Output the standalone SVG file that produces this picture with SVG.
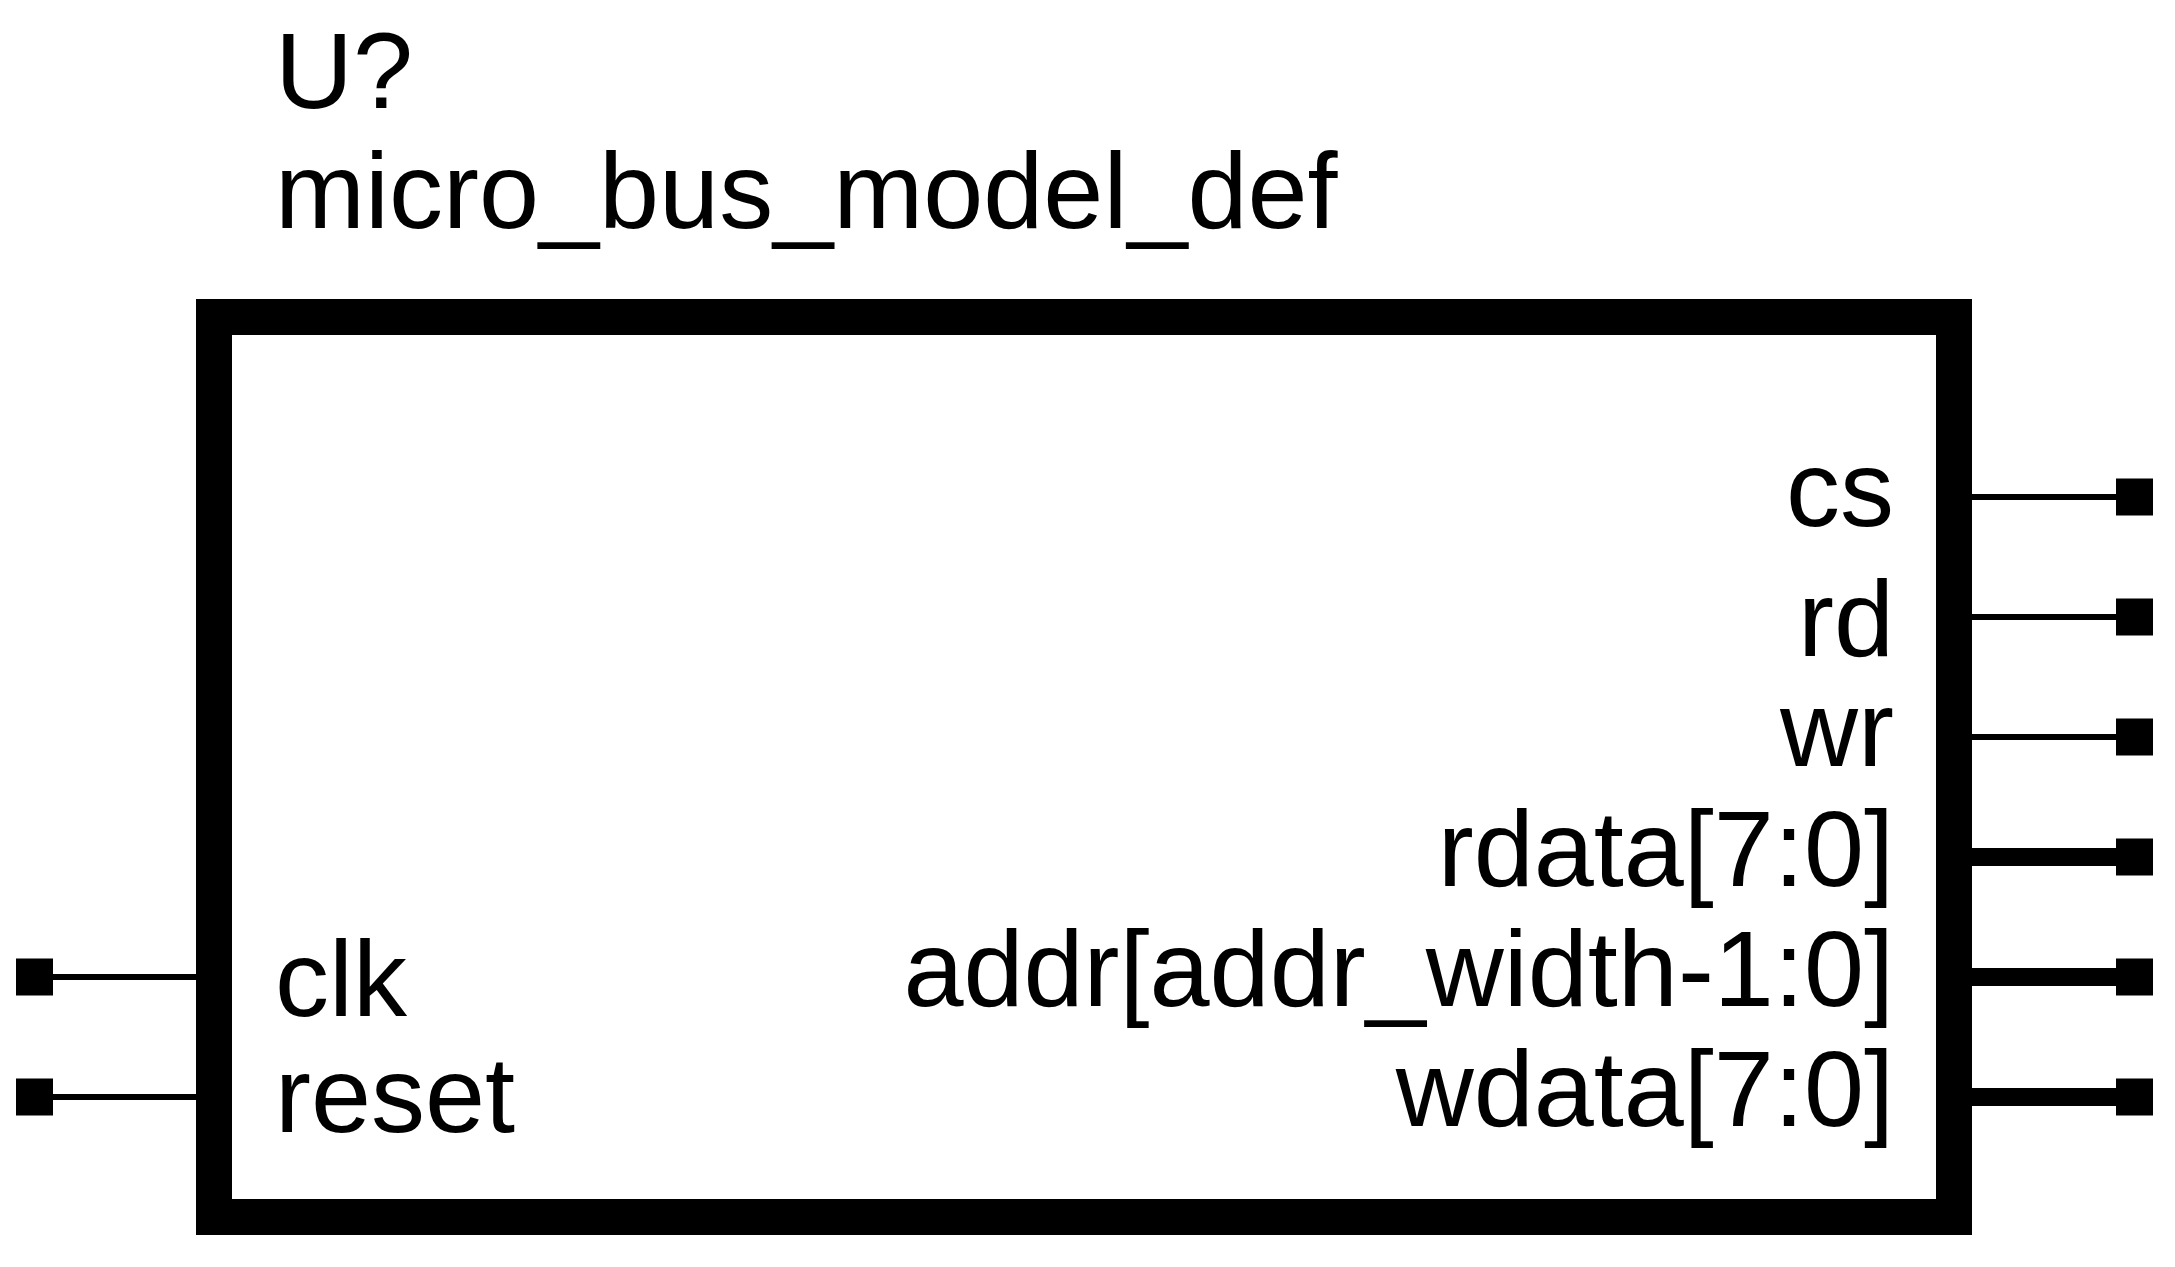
<svg xmlns="http://www.w3.org/2000/svg" width="2175" height="1267" viewBox="0 0 2175 1267">
<style>
text{font-family:"Liberation Sans",Arial,sans-serif;font-size:108px;fill:#000}
.r{text-anchor:end}
.thin{stroke:#000;stroke-width:6}
.bus{stroke:#000;stroke-width:18}
.term{fill:#000}
</style>
<rect width="2175" height="1267" fill="#fff"/>
<g id="labels">
<text x="275" y="108">U?</text>
<text x="275" y="228">micro_bus_model_def</text>
</g>
<g id="connectors">
<line class="thin" x1="53" y1="977" x2="196" y2="977"/>
<line class="thin" x1="53" y1="1097" x2="196" y2="1097"/>
<line class="thin" x1="1972" y1="497" x2="2116" y2="497"/>
<line class="thin" x1="1972" y1="617" x2="2116" y2="617"/>
<line class="thin" x1="1972" y1="737" x2="2116" y2="737"/>
<line class="bus" x1="1972" y1="857" x2="2116" y2="857"/>
<line class="bus" x1="1972" y1="977" x2="2116" y2="977"/>
<line class="bus" x1="1972" y1="1097" x2="2116" y2="1097"/>
</g>
<g id="block">
<rect x="214" y="317" width="1740" height="900" fill="#fff" stroke="#000" stroke-width="36"/>
<text x="275" y="1016">clk</text>
<text x="275" y="1132">reset</text>
<text class="r" x="1894" y="526">cs</text>
<text class="r" x="1894" y="656">rd</text>
<text class="r" x="1894" y="766">wr</text>
<text class="r" x="1894" y="886">rdata[7:0]</text>
<text class="r" x="1894" y="1006">addr[addr_width-1:0]</text>
<text class="r" x="1894" y="1126">wdata[7:0]</text>
</g>
<g id="pin-clk"><rect class="term" x="16" y="958.5" width="37" height="37"/></g>
<g id="pin-reset"><rect class="term" x="16" y="1078.5" width="37" height="37"/></g>
<g id="pin-cs"><rect class="term" x="2116" y="478.5" width="37" height="37"/></g>
<g id="pin-rd"><rect class="term" x="2116" y="598.5" width="37" height="37"/></g>
<g id="pin-wr"><rect class="term" x="2116" y="718.5" width="37" height="37"/></g>
<g id="pin-rdata"><rect class="term" x="2116" y="838.5" width="37" height="37"/></g>
<g id="pin-addr"><rect class="term" x="2116" y="958.5" width="37" height="37"/></g>
<g id="pin-wdata"><rect class="term" x="2116" y="1078.5" width="37" height="37"/></g>
</svg>
